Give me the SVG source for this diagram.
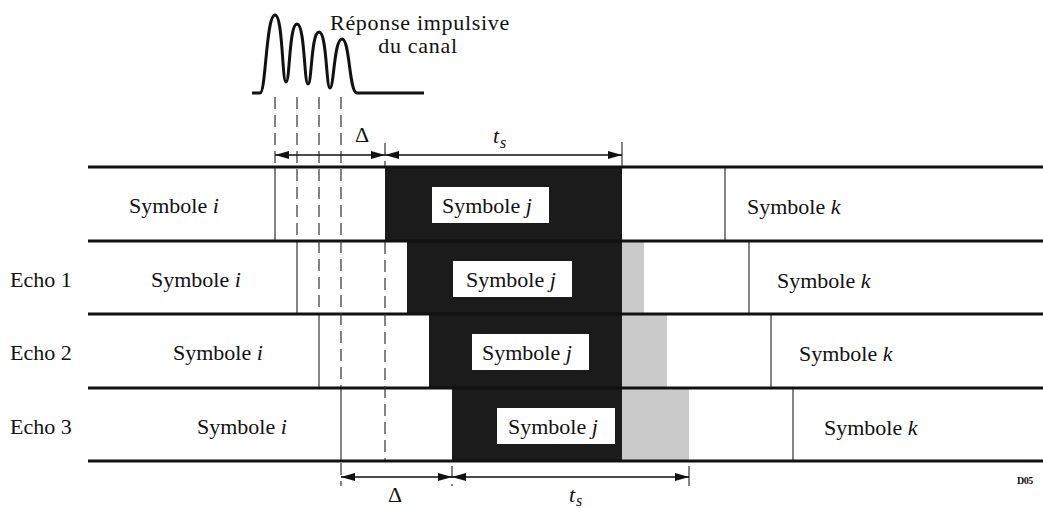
<svg xmlns="http://www.w3.org/2000/svg" width="1043" height="508" viewBox="0 0 1043 508">
<style>
text{font-family:"Liberation Serif","Times New Roman",serif;font-size:22px;fill:#111}
.it{font-style:italic}
.sub{font-style:italic;font-size:16px}
.d05{font-size:10px;font-weight:bold;letter-spacing:-0.5px}
.ls{letter-spacing:0.7px}
.row{stroke:#111;stroke-width:3;fill:none}
.thin{stroke:#333;stroke-width:1.2;fill:none}
.dash{stroke:#333;stroke-width:1.2;fill:none;stroke-dasharray:12 6}
.dark{fill:#1b1b1b}
.gray{fill:#cacaca}
.box{fill:#fff}
.dim{stroke:#111;stroke-width:1.5;fill:none;marker-start:url(#ah);marker-end:url(#ah)}
</style>
<defs>
<marker id="ah" viewBox="0 0 14 8" refX="14" refY="4" markerWidth="14" markerHeight="8" markerUnits="userSpaceOnUse" orient="auto-start-reverse">
<path d="M0,0 L14,4 L0,8 z" fill="#111"/>
</marker>
</defs>
<rect width="1043" height="508" fill="#fff"/>

<g id="impulse">
<path d="M252,93 H260 C266,93 266,15 275,15 C283,15 282,82 286,82 C290,82 289,24 297,24 C305,24 304,84 308,84 C312,84 311,32 319,32 C327,32 326,88 330,88 C334,88 334,39 342,39 C350,39 349,93 357,93 H424" stroke="#111" stroke-width="3" fill="none"/>
<text x="420" y="30" text-anchor="middle" class="ls">Réponse impulsive</text>
<text x="418" y="53" text-anchor="middle" class="ls">du canal</text>
</g>

<g id="symbol-blocks">
<rect class="dark" x="385" y="167" width="237" height="74"/>
<rect class="dark" x="407" y="241" width="215" height="73"/>
<rect class="gray" x="622" y="241" width="22" height="73"/>
<rect class="dark" x="429" y="314" width="193" height="74"/>
<rect class="gray" x="622" y="314" width="45" height="74"/>
<rect class="dark" x="452" y="388" width="170" height="73"/>
<rect class="gray" x="622" y="388" width="67" height="73"/>
</g>

<g id="row-0">
<line class="thin" x1="275" y1="167" x2="275" y2="241"/>
<line class="thin" x1="725" y1="167" x2="725" y2="241"/>
<text x="129" y="213">Symbole <tspan class="it">i</tspan></text>
<rect class="box" x="432" y="187" width="117" height="36"/>
<text x="442" y="213">Symbole <tspan class="it">j</tspan></text>
<text x="747" y="214">Symbole <tspan class="it">k</tspan></text>
</g>

<g id="row-echo1">
<line class="thin" x1="297" y1="241" x2="297" y2="314"/>
<line class="thin" x1="749" y1="241" x2="749" y2="314"/>
<text x="10" y="287">Echo 1</text>
<text x="151" y="287">Symbole <tspan class="it">i</tspan></text>
<rect class="box" x="453" y="261" width="119" height="36"/>
<text x="466" y="287">Symbole <tspan class="it">j</tspan></text>
<text x="777" y="288">Symbole <tspan class="it">k</tspan></text>
</g>

<g id="row-echo2">
<line class="thin" x1="319" y1="314" x2="319" y2="388"/>
<line class="thin" x1="771" y1="314" x2="771" y2="388"/>
<text x="10" y="360">Echo 2</text>
<text x="173" y="360">Symbole <tspan class="it">i</tspan></text>
<rect class="box" x="472" y="334" width="117" height="36"/>
<text x="482" y="360">Symbole <tspan class="it">j</tspan></text>
<text x="799" y="361">Symbole <tspan class="it">k</tspan></text>
</g>

<g id="row-echo3">
<line class="thin" x1="341" y1="388" x2="341" y2="461"/>
<line class="thin" x1="793" y1="388" x2="793" y2="461"/>
<text x="10" y="434">Echo 3</text>
<text x="197" y="434">Symbole <tspan class="it">i</tspan></text>
<rect class="box" x="497" y="408" width="118" height="36"/>
<text x="508" y="434">Symbole <tspan class="it">j</tspan></text>
<text x="824" y="435">Symbole <tspan class="it">k</tspan></text>
</g>

<g id="row-lines">
<line class="row" x1="88" y1="167" x2="1043" y2="167"/>
<line class="row" x1="88" y1="241" x2="1043" y2="241"/>
<line class="row" x1="88" y1="314" x2="1043" y2="314"/>
<line class="row" x1="88" y1="388" x2="1043" y2="388"/>
<line class="row" x1="88" y1="461" x2="1043" y2="461"/>
</g>

<g id="connectors">
<line class="dash" x1="275" y1="97" x2="275" y2="166"/>
<line class="dash" x1="297" y1="97" x2="297" y2="240"/>
<line class="dash" x1="319" y1="97" x2="319" y2="313"/>
<line class="dash" x1="341" y1="97" x2="341" y2="387"/>
<line class="dash" x1="341" y1="463" x2="341" y2="486"/>
<line class="dash" x1="385" y1="143" x2="385" y2="166"/>
<line class="dash" x1="385" y1="242" x2="385" y2="460"/>
<line class="thin" x1="622" y1="142" x2="622" y2="166"/>
<line class="dash" x1="452" y1="466" x2="452" y2="486"/>
<line class="thin" x1="689" y1="466" x2="689" y2="486"/>
<line class="dim" x1="275" y1="155" x2="385" y2="155"/>
<line class="dim" x1="385" y1="155" x2="622" y2="155"/>
<line class="dim" x1="341" y1="477" x2="452" y2="477"/>
<line class="dim" x1="452" y1="477" x2="689" y2="477"/>
<text x="362" y="142" text-anchor="middle">Δ</text>
<text x="493" y="143" class="it">t</text>
<text x="500" y="148" class="sub">s</text>
<text x="395" y="502" text-anchor="middle">Δ</text>
<text x="569" y="502" class="it">t</text>
<text x="576" y="506" class="sub">s</text>
</g>

<text x="1017" y="484" class="d05">D05</text>
</svg>
